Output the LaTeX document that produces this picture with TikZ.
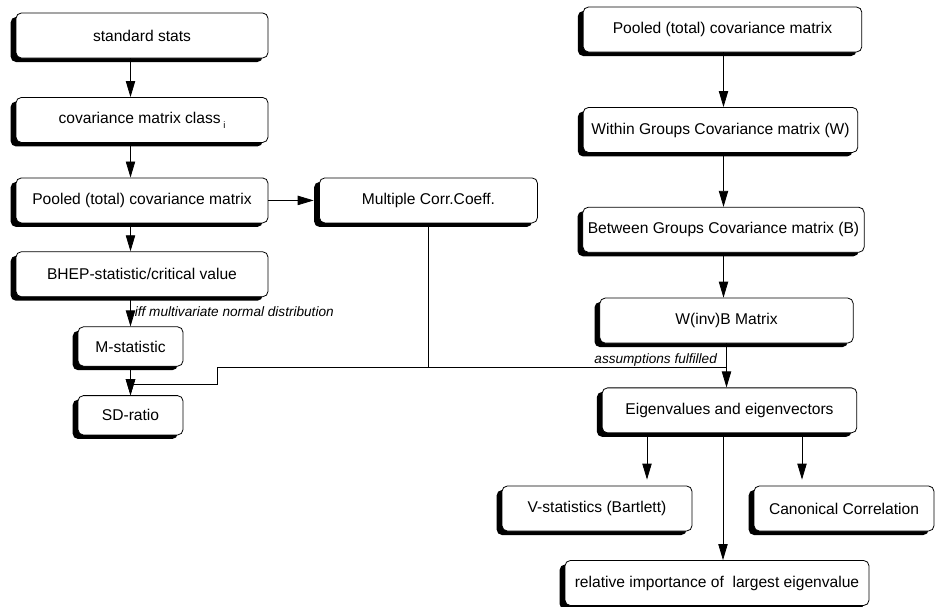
\documentclass[tikz,border=0pt]{standalone}
\usepackage{fontspec}
\setmainfont{Liberation Sans}
\usetikzlibrary{arrows.meta,positioning,shadows,calc}

\begin{document}
\begin{tikzpicture}[
  x=0.75pt, y=0.75pt,
  box/.style={draw, line width=0.6pt, rounded corners=4pt, fill=white, minimum height=33.75pt, inner sep=2pt, font=\fontsize{11.7}{14}\selectfont, drop shadow={shadow xshift=-4pt, shadow yshift=-3pt, fill=black, opacity=1}},
  lbl/.style={font=\fontsize{10.2}{12}\selectfont\itshape, inner sep=1pt},
  arrow/.style={-{Triangle[length=12pt,width=7pt]}, line width=0.6pt},
  link/.style={line width=0.6pt}
]
  \useasboundingbox (0,0) rectangle (936,-607);

  % left column
  \node[box, minimum width=189pt] (stats) at (142,-35.5) {standard stats};
  \node[box, minimum width=189pt, below=29pt of stats] (cov) {covariance matrix class\,\raisebox{-0.6ex}{\scriptsize i}};
  \node[box, minimum width=189pt, below=26pt of cov] (pooled) {Pooled (total) covariance matrix};
  \node[box, minimum width=189pt, below=21pt of pooled] (bhep) {BHEP-statistic/critical value};
  \node[box, minimum width=78.75pt, minimum height=29.5pt] (mstat) at (130.5,-346.5) {M-statistic};
  \node[box, minimum width=78.75pt, minimum height=29.5pt, below=21.5pt of mstat] (sd) {SD-ratio};
  \node[box, minimum width=163.5pt, right=38pt of pooled] (mcc) {Multiple Corr.Coeff.};

  \draw[arrow] (stats.south -| mstat.north) -- (cov.north -| mstat.north);
  \draw[arrow] (cov.south -| mstat.north) -- (pooled.north -| mstat.north);
  \draw[arrow] (pooled.south -| mstat.north) -- (bhep.north -| mstat.north);
  \draw[arrow] (bhep.south -| mstat.north) -- (mstat.north)
    node[lbl, midway, right=2pt] (iff) {iff multivariate normal distribution};
  \draw[arrow] (mstat) -- (sd);
  \draw[arrow, shorten >=4pt] (pooled) -- (mcc);

  % right column
  \node[box, minimum width=209pt] (rpooled) at (722.5,-29.5) {Pooled (total) covariance matrix};
  \node[box, minimum width=206pt, below=41pt of rpooled, xshift=-1.5pt] (within) {Within Groups Covariance matrix (W)};
  \node[box, minimum width=211pt, below=40.5pt of within, xshift=2.25pt] (between) {Between Groups Covariance matrix (B)};
  \node[box, minimum width=190pt, below=33.75pt of between, xshift=2.25pt] (winvb) {W(inv)B Matrix};
  \node[box, minimum width=191pt, below=33pt of winvb, xshift=2.25pt] (eigen) {Eigenvalues and eigenvectors};
  \node[box, minimum width=142.5pt] (vstat) at (597,-508.5) {V-statistics (Bartlett)};
  \node[box, minimum width=135pt] (canon) at (844,-508.5) {Canonical Correlation};
  \node[box, minimum width=228pt] (relimp) at (717,-583) {relative importance of\ \ largest eigenvalue};

  \draw[arrow] (rpooled.south -| between.north) -- (within.north -| between.north);
  \draw[arrow] (within.south -| between.north) -- (between.north);
  \draw[arrow] (between.south) -- (between.south |- winvb.north);
  \draw[arrow] (winvb.south) -- (winvb.south |- eigen.north);

  \coordinate (ev) at ($(eigen.south)+(-82.5,0)$);
  \coordinate (er) at ($(eigen.south)+(-6.5,0)$);
  \coordinate (ec) at ($(eigen.south)+(72.5,0)$);
  \draw[arrow, shorten >=4.5pt] (ev) -- (ev |- vstat.north);
  \draw[arrow] (er) -- (er |- relimp.north);
  \draw[arrow, shorten >=4.5pt] (ec) -- (ec |- canon.north);

  % branch back to SD-ratio
  \coordinate (split) at ($(winvb.south)+(0,-24)$);
  \coordinate (kink) at (217,-384);
  \draw[link] (mcc.south) -- (mcc.south |- split);
  \draw[arrow] (split) -| (kink) -| (sd.north);
  \node[lbl, anchor=south east] (assume) at ([xshift=-6pt]split) {assumptions fulfilled};
\end{tikzpicture}
\end{document}
